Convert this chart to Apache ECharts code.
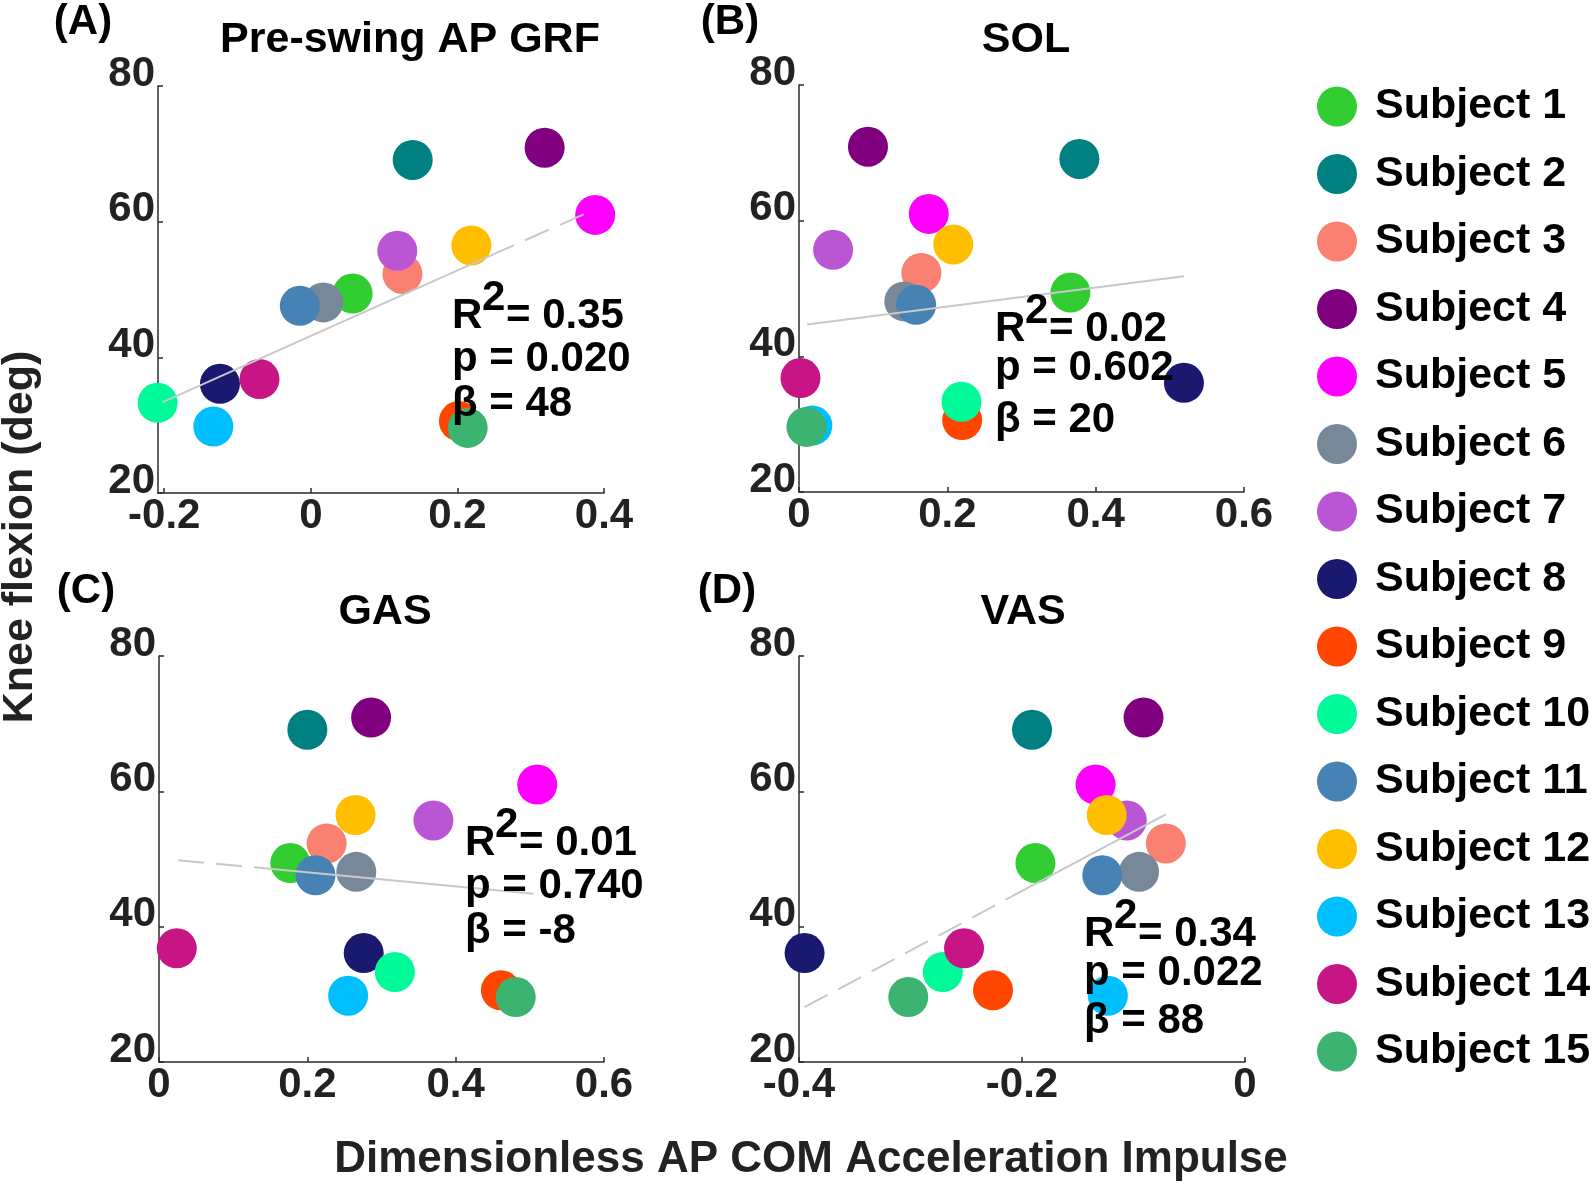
<!DOCTYPE html>
<html>
<head>
<meta charset="utf-8">
<script src="https://cdn.jsdelivr.net/npm/echarts@6/dist/echarts.min.js"></script>
<style>
  html, body { margin: 0; padding: 0; background: #fff; }
  #chart { width: 1594px; height: 1186px; }
</style>
</head>
<body>
<div id="chart"></div>
<script>
// subjects and their colours
var subjects = ['Subject 1', 'Subject 2', 'Subject 3', 'Subject 4', 'Subject 5',
  'Subject 6', 'Subject 7', 'Subject 8', 'Subject 9', 'Subject 10',
  'Subject 11', 'Subject 12', 'Subject 13', 'Subject 14', 'Subject 15'];
var subjectColors = ['#32cd32', '#008080', '#fa8072', '#800080', '#ff00ff',
  '#778899', '#ba55d3', '#191970', '#ff4500', '#00fa9a',
  '#4682b4', '#ffbf00', '#00bfff', '#c71585', '#3cb371'];

// knee flexion (deg), same for every panel
var kneeFlexion = [49.4, 69.1, 52.3, 70.9, 61.0, 48.1, 55.7, 36.1, 30.6, 33.3, 47.6, 56.5, 29.8, 36.8, 29.6];

// dimensionless AP COM acceleration impulse, one array per panel
var grfImpulse = [0.057, 0.139, 0.125, 0.319, 0.388, 0.017, 0.118, -0.124, 0.202, -0.209, -0.015, 0.219, -0.133, -0.070, 0.214];
var solImpulse = [0.366, 0.378, 0.165, 0.093, 0.175, 0.142, 0.046, 0.519, 0.220, 0.219, 0.158, 0.208, 0.018, 0.002, 0.010];
var gasImpulse = [0.177, 0.200, 0.226, 0.286, 0.510, 0.266, 0.370, 0.276, 0.461, 0.318, 0.211, 0.265, 0.255, 0.024, 0.481];
var vasImpulse = [-0.188, -0.191, -0.071, -0.091, -0.134, -0.095, -0.106, -0.395, -0.226, -0.271, -0.128, -0.124, -0.123, -0.252, -0.302];

// fit lines (points along the line)
var grfFitX = [-0.202, 0.245, 0.381];
var grfFitY = [33.4, 55.0, 61.5];
var solFitX = [0.011, 0.519];
var solFitY = [44.7, 51.8];
var gasFitX = [0.026, 0.135, 0.505];
var gasFitY = [49.8, 48.7, 44.85];
var vasFitX = [-0.395, -0.210, -0.071];
var vasFitY = [28.1, 44.4, 56.6];

// stats text
var statR2 = ['0.35', '0.02', '0.01', '0.34'];
var statP = ['0.020', '0.602', '0.740', '0.022'];
var statBeta = ['48', '20', '-8', '88'];

var panelTitles = ['Pre-swing AP GRF', 'SOL', 'GAS', 'VAS'];
var panelLetters = ['(A)', '(B)', '(C)', '(D)'];
var xTicksA = [-0.2, 0, 0.2, 0.4];

var FONT = 'Liberation Sans, Arial, Helvetica, sans-serif';
var axisColor = '#2b2b2b';

var panels = [
  { x: grfImpulse, fitX: grfFitX, fitY: grfFitY, dash: [false, true], min: -0.2085, max: 0.4,
    grid: { left: 158, top: 86, width: 446, height: 407 }, titleX: 410, titleY: 40, letterX: 83, letterY: 22,
    statX: 452, statY: [316, 359, 404] },
  { x: solImpulse, fitX: solFitX, fitY: solFitY, dash: [false], min: 0, max: 0.6,
    grid: { left: 799, top: 85, width: 445, height: 407 }, titleX: 1026, titleY: 40, letterX: 730, letterY: 22,
    statX: 995, statY: [329, 368, 420] },
  { x: gasImpulse, fitX: gasFitX, fitY: gasFitY, dash: [true, false], min: 0, max: 0.6,
    grid: { left: 159, top: 656, width: 445, height: 406 }, titleX: 385, titleY: 612, letterX: 86, letterY: 591,
    statX: 465, statY: [843, 886, 931] },
  { x: vasImpulse, fitX: vasFitX, fitY: vasFitY, dash: [true, false], min: -0.4, max: 0,
    grid: { left: 799, top: 656, width: 446, height: 406 }, titleX: 1023, titleY: 612, letterX: 727, letterY: 591,
    statX: 1084, statY: [934, 973, 1021] }
];

var grids = [], xAxes = [], yAxes = [], series = [], graphics = [];

function label(text, x, y, align, size, extra) {
  return Object.assign({
    type: 'text', x: x, y: y, z: 10,
    style: { text: text, font: 'bold ' + (size || 42) + 'px ' + FONT, fill: '#000',
      align: align, verticalAlign: 'middle', textAlign: align, textVerticalAlign: 'middle' }
  }, extra || {});
}

panels.forEach(function (p, pi) {
  grids.push(p.grid);
  var xAxis = {
    gridIndex: pi, type: 'value', min: p.min, max: p.max,
    axisLine: { show: true, onZero: false, lineStyle: { color: axisColor, width: 1.5 } },
    axisTick: { show: true, inside: true, length: 5, lineStyle: { color: axisColor, width: 1.5 } },
    splitLine: { show: false },
    axisLabel: {
      color: '#222', fontFamily: FONT, fontWeight: 'bold', fontSize: 42, lineHeight: 30, margin: 8,
      formatter: function (v) { return String(+v.toFixed(1)); }
    }
  };
  if (pi === 0) {
    xAxis.axisLabel.customValues = xTicksA;
    xAxis.axisTick.customValues = xTicksA;
  } else {
    xAxis.interval = 0.2;
  }
  xAxes.push(xAxis);
  yAxes.push({
    gridIndex: pi, type: 'value', min: 20, max: 80, interval: 20,
    axisLine: { show: true, onZero: false, lineStyle: { color: axisColor, width: 1.5 } },
    axisTick: { show: true, inside: true, length: 5, lineStyle: { color: axisColor, width: 1.5 } },
    splitLine: { show: false },
    axisLabel: {
      color: '#222', fontFamily: FONT, fontWeight: 'bold', fontSize: 42, lineHeight: 24, margin: 3,
      verticalAlign: 'bottom'
    }
  });

  // one scatter series per subject
  subjects.forEach(function (name, si) {
    series.push({
      type: 'scatter', name: name, xAxisIndex: pi, yAxisIndex: pi,
      data: [[p.x[si], kneeFlexion[si]]],
      symbol: 'circle', symbolSize: 40, clip: false, silent: true, z: 2,
      itemStyle: { color: subjectColors[si], opacity: 1 }
    });
  });

  // fit line, split into solid / dashed pieces
  for (var k = 0; k < p.fitX.length - 1; k++) {
    series.push({
      type: 'line', xAxisIndex: pi, yAxisIndex: pi, silent: true, z: 3,
      data: [[p.fitX[k], p.fitY[k]], [p.fitX[k + 1], p.fitY[k + 1]]],
      symbol: 'none', clip: false,
      lineStyle: { color: '#c8c8c8', width: 2, type: p.dash[k] ? [26, 12] : 'solid' }
    });
  }

  graphics.push(label(panelTitles[pi], p.titleX, p.titleY, 'center', 43));
  graphics.push(label(panelLetters[pi], p.letterX, p.letterY, 'center'));
  // R^2 line: R, raised 2, rest
  graphics.push(label('R', p.statX, p.statY[0], 'left'));
  graphics.push(label('2', p.statX + 30, p.statY[0] - 18, 'left'));
  graphics.push(label('= ' + statR2[pi], p.statX + 54, p.statY[0], 'left'));
  graphics.push(label('p = ' + statP[pi], p.statX, p.statY[1], 'left'));
  graphics.push(label('\u03b2 = ' + statBeta[pi], p.statX, p.statY[2], 'left'));
});

// shared axis names
var xName = label('Dimensionless AP COM Acceleration Impulse', 811, 1160, 'center', 44);
xName.style.fill = '#222';
graphics.push(xName);
var yName = label('Knee flexion (deg)', 20, 537, 'center', 43, { rotation: Math.PI / 2 });
yName.style.fill = '#222';
graphics.push(yName);

var chart = echarts.init(document.getElementById('chart'), null, { renderer: 'canvas' });
chart.setOption({
  animation: false,
  backgroundColor: '#fff',
  grid: grids,
  xAxis: xAxes,
  yAxis: yAxes,
  legend: {
    data: subjects, orient: 'vertical', left: 1312, top: 80,
    itemWidth: 40, itemHeight: 40, itemGap: 24.5, icon: 'circle', selectedMode: false,
    textStyle: { fontFamily: FONT, fontWeight: 'bold', fontSize: 43, color: '#000', lineHeight: 40, padding: [0, 0, 0, 13] }
  },
  graphic: graphics,
  series: series
});
</script>
</body>
</html>
